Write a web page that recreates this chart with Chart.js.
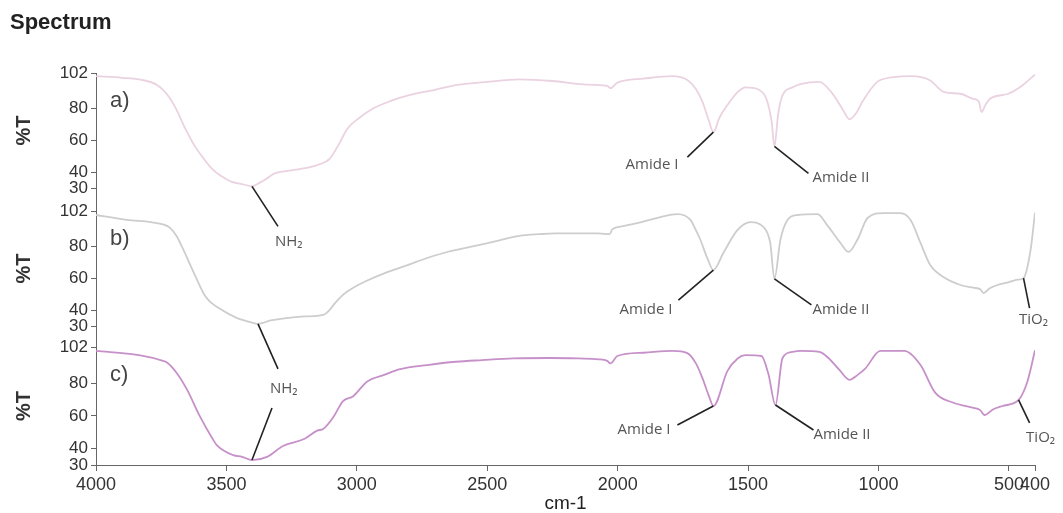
<!DOCTYPE html>
<html><head><meta charset="utf-8">
<script src="https://cdn.jsdelivr.net/npm/chart.js@4.4.1/dist/chart.umd.min.js"></script>
<style>html,body{margin:0;padding:0;background:#fff;} #wrap{width:1063px;height:513px;position:relative;}</style>
</head><body><div id="wrap"><canvas id="c" width="1063" height="513"></canvas></div>
<script>
// ---- data ----
const xTicks = [4000, 3500, 3000, 2500, 2000, 1500, 1000, 500, 400];
const yTicks = [30, 40, 60, 80, 102];
const panelLabels = ['a)', 'b)', 'c)'];

const wnA = [4000,3900,3835,3766,3720,3693,3660,3624,3590,3555,3520,3482,3440,3402,3370,3340,3317,3250,3179,3140,3106,3070,3037,2990,2941,2870,2803,2700,2615,2500,2377,2250,2143,2080,2040,2028,2001,1900,1790,1733,1700,1675,1650,1633,1610,1579,1540,1510,1464,1440,1426,1410,1399,1385,1368,1330,1299,1227,1181,1140,1111,1085,1062,993,874,805,747,686,640,615,605,590,571,502,450,400];
const tA  = [100,99,98,94.5,87,79.5,68,57,49,42,37.5,34,32.5,31,33.5,36.5,39,41,43,45,48,57,67,74,79.5,84.5,88,91.5,94.5,96.5,98,97,95,94.5,94,92.5,96,98.5,100,97.6,92,84,72,65,74,82,90,93,92,89,84,72,56,76,88,93,95,96.4,90,80,73,77,84,97.6,100,97.6,90,89,86,84,77.6,82,86,89,94,101];

const wnB = [4000,3881,3789,3740,3716,3690,3670,3624,3578,3517,3459,3420,3379,3330,3271,3200,3129,3105,3083,3050,3014,2960,2895,2800,2730,2650,2565,2470,2377,2300,2239,2150,2074,2030,2021,1980,1909,1840,1771,1721,1700,1683,1655,1633,1595,1541,1491,1441,1415,1399,1376,1349,1311,1234,1196,1146,1115,1081,1042,981,916,877,839,801,751,686,636,610,597,575,544,500,467,444,417,400];
const tB  = [99.5,96.4,95,93.5,91.4,86,79.5,63,48,40,35,33,31.4,33.5,35,36,37,40,44.5,50,54,58.5,63,68.5,72.6,76.5,79.5,83,86.4,87.5,88,88,88,87.5,90.5,92.5,95,98,100,96.4,90,84,72,65,75.7,90,95,92,82,59.5,84,96.4,99.5,100,93,82,76.4,84,97.6,100.7,100.7,96.4,82,68,60.7,55.7,54,53,50.7,53.5,55.7,57.5,59,60,77.6,101];

const wnC = [4000,3835,3743,3728,3690,3651,3601,3555,3536,3474,3440,3402,3344,3283,3200,3152,3129,3091,3053,3014,2960,2895,2834,2730,2620,2519,2400,2262,2150,2074,2040,2028,2001,1900,1790,1733,1700,1675,1650,1633,1579,1540,1510,1449,1422,1395,1368,1330,1299,1227,1192,1150,1111,1080,1050,993,901,839,782,713,640,610,594,560,525,463,429,400];
const tC  = [99.6,97,93.5,92.5,86,76,59.5,46.5,42,36,35,33,35,41.6,46,51,52,59,69,72,81,85,88.5,91,93,94,95,95.3,95,94.5,93.5,92,96.5,98.5,99.6,98.3,92,83,72,66,87.4,95,97,96.5,85.5,66.6,95.3,99,99.6,99,95.3,88,82,85,89,99.6,99.6,91,74,68,65,63.5,60.5,64,66,69.7,81,100];

// annotations (data anchors)
const annoPanel = [0, 0, 0, 1, 1, 1, 1, 2, 2, 2, 2];
const annoWn    = [3402, 1633, 1399, 3379, 1633, 1399, 444, 3402, 1633, 1395, 463];
const annoT     = [31, 65, 56, 31.4, 65, 59.5, 60, 33, 66, 66.6, 69.7];
const annoText  = ['NH\u2082', 'Amide I', 'Amide II', 'NH\u2082', 'Amide I', 'Amide II', 'TiO\u2082', '', 'Amide I', 'Amide II', 'TiO\u2082'];

// ---- presentation ----
const annoLayout = [
  [26, 40, 23, 55, 'left'],
  [-26, 25, -35, 33, 'right'],
  [34, 27, 38, 31, 'left'],
  [20, 45, 12, 65, 'left'],
  [-35, 30, -41, 40, 'right'],
  [37, 26, 38, 31, 'left'],
  [6, 30, 10, 42, 'center'],
  [20, -52, 0, 0, 'left'],
  [-36, 19, -43, 24, 'right'],
  [38, 25, 38, 30, 'left'],
  [11, 23, 22, 38, 'center']
];
const panelIds = ['yA', 'yB', 'yC'];
const colors = ['#ead2e0', '#cdcdcd', '#c690c9'];
const axisColor = '#666';
const SANS = '"Liberation Sans", Arial, sans-serif';

function pts(w, t) { return w.map((x, i) => ({x: x, y: t[i]})); }

function yScale(min, weight, stackW) {
  return {
    type: 'linear', position: 'left', stack: 'spec', stackWeight: stackW, weight: weight,
    min: min, max: 102,
    afterBuildTicks: s => { s.ticks = yTicks.map(v => ({value: v})); },
    afterFit: s => { s.width = 96; },
    grid: {drawOnChartArea: false, drawTicks: true, tickLength: 5, color: axisColor},
    border: {display: true, color: axisColor, width: 1},
    ticks: {autoSkip: false, padding: 3, color: '#333', font: {family: SANS, size: 17}, callback: v => String(v)}
  };
}

const bgPlugin = {
  id: 'bg',
  beforeDraw(chart) {
    const c = chart.ctx; c.save(); c.fillStyle = '#fff'; c.fillRect(0, 0, chart.width, chart.height); c.restore();
  }
};

const textPlugin = {
  id: 'texts',
  afterDraw(chart) {
    const c = chart.ctx;
    c.save();
    c.fillStyle = '#222';
    c.font = 'bold 22px ' + SANS;
    c.textAlign = 'left'; c.textBaseline = 'middle';
    c.fillText('Spectrum', 10, 23);
    panelIds.forEach((id, i) => {
      const s = chart.scales[id];
      const top = s.getPixelForValue(102), bot = s.getPixelForValue(30);
      c.save();
      c.translate(24, (top + bot) / 2);
      c.rotate(-Math.PI / 2);
      c.font = 'bold 20px ' + SANS;
      c.fillStyle = '#333';
      c.textAlign = 'center'; c.textBaseline = 'middle';
      c.fillText('%T', 0, 0);
      c.restore();
      c.font = '22px ' + SANS;
      c.fillStyle = '#444';
      c.textAlign = 'left'; c.textBaseline = 'middle';
      c.fillText(panelLabels[i], chart.chartArea.left + 14, top + 28);
    });
    c.restore();
  }
};

const annoPlugin = {
  id: 'anno',
  afterDatasetsDraw(chart) {
    const c = chart.ctx, xs = chart.scales.x;
    c.save();
    annoPanel.forEach((p, i) => {
      const ys = chart.scales[panelIds[p]];
      const px = xs.getPixelForValue(annoWn[i]);
      const py = ys.getPixelForValue(annoT[i]);
      const L = annoLayout[i];
      c.beginPath();
      c.strokeStyle = '#222'; c.lineWidth = 1.6;
      c.moveTo(px, py); c.lineTo(px + L[0], py + L[1]);
      c.stroke();
      if (annoText[i]) {
        c.font = '15px "Open Sans", "Noto Sans", sans-serif';
        c.fillStyle = '#555';
        c.textAlign = L[4]; c.textBaseline = 'middle';
        c.fillText(annoText[i], px + L[2], py + L[3]);
      }
    });
    c.restore();
  }
};

new Chart(document.getElementById('c'), {
  type: 'line',
  data: {
    datasets: [
      {data: pts(wnA, tA), yAxisID: 'yA', borderColor: colors[0]},
      {data: pts(wnB, tB), yAxisID: 'yB', borderColor: colors[1]},
      {data: pts(wnC, tC), yAxisID: 'yC', borderColor: colors[2]}
    ]
  },
  options: {
    responsive: false, animation: false, devicePixelRatio: 1,
    layout: {padding: {top: 73, right: 28, bottom: 0, left: 0}},
    elements: {
      point: {radius: 0, hoverRadius: 0},
      line: {borderWidth: 1.8, cubicInterpolationMode: 'monotone', fill: false}
    },
    plugins: {legend: {display: false}, tooltip: {enabled: false}, title: {display: false}},
    scales: {
      x: {
        type: 'linear', position: 'bottom', reverse: true, min: 400, max: 4000,
        afterBuildTicks: s => { s.ticks = xTicks.map(v => ({value: v})); },
        afterFit: s => { s.height = 48; },
        grid: {drawOnChartArea: false, drawTicks: true, tickLength: 6, color: axisColor},
        border: {display: true, color: axisColor, width: 1},
        ticks: {autoSkip: false, maxRotation: 0, padding: 3, color: '#333', font: {family: SANS, size: 18}, callback: v => String(v)},
        title: {display: true, text: 'cm-1', color: '#222', padding: {top: 0, bottom: 0}, font: {family: SANS, size: 19, lineHeight: 1}}
      },
      yA: yScale(15.6, 3, 138),
      yB: yScale(16.9, 2, 136),
      yC: yScale(30, 1, 118)
    }
  },
  plugins: [bgPlugin, textPlugin, annoPlugin]
});
</script>
</body></html>
